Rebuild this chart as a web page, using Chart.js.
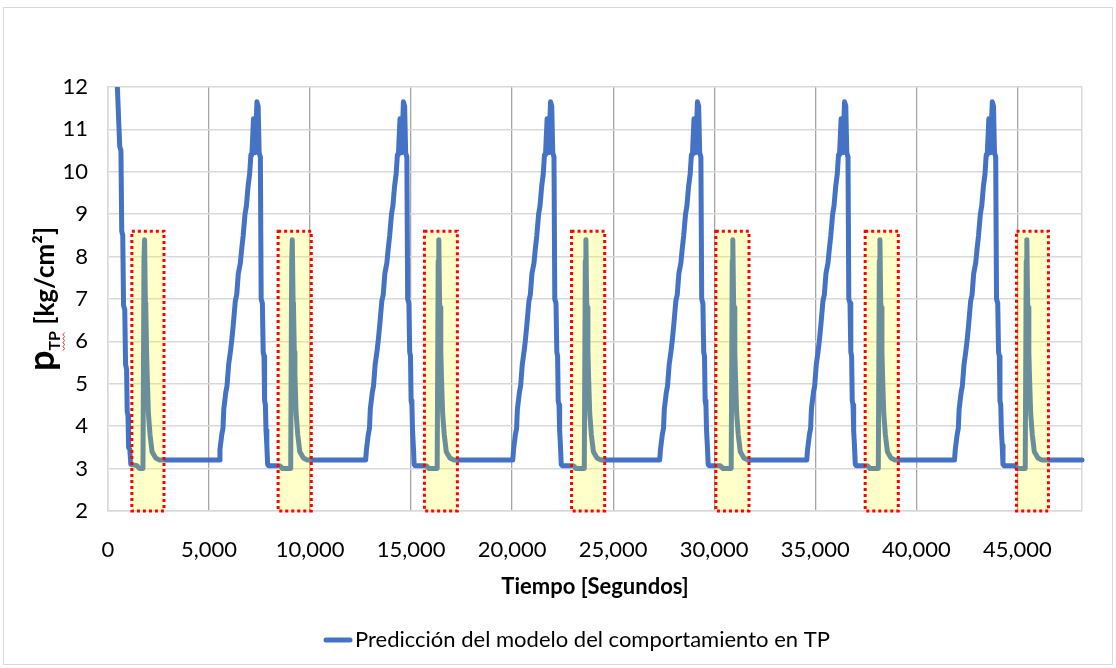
<!DOCTYPE html>
<html>
<head>
<meta charset="utf-8">
<title>Presión en TP</title>
<script src="https://cdn.jsdelivr.net/npm/chart.js@4.4.1/dist/chart.umd.min.js"></script>
<style>
  html, body { margin: 0; padding: 0; background: #ffffff; }
  #lienzo { display: block; width: 1116px; height: 668px; }
</style>
</head>
<body>
<canvas id="lienzo" width="1116" height="668"></canvas>
<script>
// Presión simulada en TP [kg/cm²] frente al tiempo [s], por tramos: [tiempo, presión]
const arranque = [
  [430, 12.40], [580, 10.60], [640, 10.50], [680, 8.60], [730, 8.50], [770, 6.85],
  [830, 6.75], [870, 5.45], [920, 5.35], [950, 4.35], [990, 4.25], [1020, 3.50],
  [1080, 3.45], [1130, 3.10], [1430, 3.07], [1570, 3.00], [1730, 3.00],
  [1780, 7.90], [1810, 8.40], [1850, 6.90], [1870, 6.80], [1910, 5.75], [1940, 5.20],
  [2000, 4.30], [2080, 3.80], [2180, 3.40], [2360, 3.25], [2560, 3.20]
];
const ciclo1 = [
  [5500, 3.20], [5540, 3.45], [5630, 3.80], [5690, 3.95], [5730, 4.40], [5830, 4.80],
  [5890, 4.95], [5970, 5.45], [6070, 5.80], [6130, 6.05], [6200, 6.40], [6300, 6.95],
  [6370, 7.10], [6450, 7.60], [6550, 7.85], [6610, 8.15], [6690, 8.50], [6780, 9.00],
  [6850, 9.20], [6930, 9.65], [7010, 9.95], [7070, 10.40], [7120, 10.40], [7200, 11.25],
  [7280, 10.45], [7370, 11.65], [7430, 11.55], [7480, 10.45], [7540, 10.35], [7580, 7.00],
  [7640, 6.90], [7680, 5.75], [7720, 5.65], [7750, 4.60], [7790, 4.50], [7820, 3.90],
  [7860, 3.55], [7900, 3.10], [7950, 3.07], [8490, 3.07], [8640, 3.00],
  [9040, 3.00], [9090, 7.90], [9120, 8.40], [9160, 6.90], [9180, 6.80], [9220, 5.75],
  [9250, 5.20], [9310, 4.30], [9390, 3.80], [9490, 3.40], [9670, 3.25], [9870, 3.20]
];
const ciclo2 = [
  [12750, 3.20], [12790, 3.45], [12880, 3.80], [12940, 3.95], [12980, 4.40], [13080, 4.80],
  [13140, 4.95], [13220, 5.45], [13320, 5.80], [13380, 6.05], [13450, 6.40], [13550, 6.95],
  [13620, 7.10], [13700, 7.60], [13800, 7.85], [13860, 8.15], [13940, 8.50], [14030, 9.00],
  [14100, 9.20], [14180, 9.65], [14260, 9.95], [14320, 10.40], [14370, 10.40], [14450, 11.25],
  [14530, 10.45], [14620, 11.65], [14680, 11.55], [14730, 10.45], [14790, 10.35], [14830, 7.00],
  [14890, 6.90], [14930, 5.75], [14970, 5.65], [15000, 4.60], [15040, 4.50], [15070, 3.90],
  [15110, 3.55], [15150, 3.10], [15200, 3.07], [15740, 3.07], [15890, 3.00],
  [16290, 3.00], [16340, 7.90], [16370, 8.40], [16410, 6.90], [16430, 6.80], [16470, 5.75],
  [16500, 5.20], [16560, 4.30], [16640, 3.80], [16740, 3.40], [16920, 3.25], [17120, 3.20]
];
const ciclo3 = [
  [20030, 3.20], [20070, 3.45], [20160, 3.80], [20220, 3.95], [20260, 4.40], [20360, 4.80],
  [20420, 4.95], [20500, 5.45], [20600, 5.80], [20660, 6.05], [20730, 6.40], [20830, 6.95],
  [20900, 7.10], [20980, 7.60], [21080, 7.85], [21140, 8.15], [21220, 8.50], [21310, 9.00],
  [21380, 9.20], [21460, 9.65], [21540, 9.95], [21600, 10.40], [21650, 10.40], [21730, 11.25],
  [21810, 10.45], [21900, 11.65], [21960, 11.55], [22010, 10.45], [22070, 10.35], [22110, 7.00],
  [22170, 6.90], [22210, 5.75], [22250, 5.65], [22280, 4.60], [22320, 4.50], [22350, 3.90],
  [22390, 3.55], [22430, 3.10], [22480, 3.07], [23020, 3.07], [23170, 3.00],
  [23570, 3.00], [23620, 7.90], [23650, 8.40], [23690, 6.90], [23710, 6.80], [23750, 5.75],
  [23780, 5.20], [23840, 4.30], [23920, 3.80], [24020, 3.40], [24200, 3.25], [24400, 3.20]
];
const ciclo4 = [
  [27300, 3.20], [27340, 3.45], [27430, 3.80], [27490, 3.95], [27530, 4.40], [27630, 4.80],
  [27690, 4.95], [27770, 5.45], [27870, 5.80], [27930, 6.05], [28000, 6.40], [28100, 6.95],
  [28170, 7.10], [28250, 7.60], [28350, 7.85], [28410, 8.15], [28490, 8.50], [28580, 9.00],
  [28650, 9.20], [28730, 9.65], [28810, 9.95], [28870, 10.40], [28920, 10.40], [29000, 11.25],
  [29080, 10.45], [29170, 11.65], [29230, 11.55], [29280, 10.45], [29340, 10.35], [29380, 7.00],
  [29440, 6.90], [29480, 5.75], [29520, 5.65], [29550, 4.60], [29590, 4.50], [29620, 3.90],
  [29660, 3.55], [29700, 3.10], [29750, 3.07], [30290, 3.07], [30440, 3.00],
  [30840, 3.00], [30890, 7.90], [30920, 8.40], [30960, 6.90], [30980, 6.80], [31020, 5.75],
  [31050, 5.20], [31110, 4.30], [31190, 3.80], [31290, 3.40], [31470, 3.25], [31670, 3.20]
];
const ciclo5 = [
  [34580, 3.20], [34620, 3.45], [34710, 3.80], [34770, 3.95], [34810, 4.40], [34910, 4.80],
  [34970, 4.95], [35050, 5.45], [35150, 5.80], [35210, 6.05], [35280, 6.40], [35380, 6.95],
  [35450, 7.10], [35530, 7.60], [35630, 7.85], [35690, 8.15], [35770, 8.50], [35860, 9.00],
  [35930, 9.20], [36010, 9.65], [36090, 9.95], [36150, 10.40], [36200, 10.40], [36280, 11.25],
  [36360, 10.45], [36450, 11.65], [36510, 11.55], [36560, 10.45], [36620, 10.35], [36660, 7.00],
  [36720, 6.90], [36760, 5.75], [36800, 5.65], [36830, 4.60], [36870, 4.50], [36900, 3.90],
  [36940, 3.55], [36980, 3.10], [37030, 3.07], [37570, 3.07], [37720, 3.00],
  [38120, 3.00], [38170, 7.90], [38200, 8.40], [38240, 6.90], [38260, 6.80], [38300, 5.75],
  [38330, 5.20], [38390, 4.30], [38470, 3.80], [38570, 3.40], [38750, 3.25], [38950, 3.20]
];
const ciclo6 = [
  [41890, 3.20], [41930, 3.45], [42020, 3.80], [42080, 3.95], [42120, 4.40], [42220, 4.80],
  [42280, 4.95], [42360, 5.45], [42460, 5.80], [42520, 6.05], [42590, 6.40], [42690, 6.95],
  [42760, 7.10], [42840, 7.60], [42940, 7.85], [43000, 8.15], [43080, 8.50], [43170, 9.00],
  [43240, 9.20], [43320, 9.65], [43400, 9.95], [43460, 10.40], [43510, 10.40], [43590, 11.25],
  [43670, 10.45], [43760, 11.65], [43820, 11.55], [43870, 10.45], [43930, 10.35], [43970, 7.00],
  [44030, 6.90], [44070, 5.75], [44110, 5.65], [44140, 4.60], [44180, 4.50], [44210, 3.90],
  [44250, 3.55], [44290, 3.10], [44340, 3.07], [44880, 3.07], [45030, 3.00],
  [45390, 3.00], [45440, 7.90], [45470, 8.40], [45510, 6.90], [45530, 6.80], [45570, 5.75],
  [45600, 5.20], [45660, 4.30], [45740, 3.80], [45840, 3.40], [46020, 3.25], [46220, 3.20],
  [48200, 3.20]
];

// Ventanas resaltadas (tiempo inicial y final, presión mínima y máxima)
const ventanaInicio = [1180, 8420, 15660, 22940, 30080, 37470, 44960];
const ventanaFin    = [2770, 10060, 17290, 24580, 31720, 39110, 46540];
const ventanaPresion = [2, 8.6];

// Ejes: marcas del eje X y límites
const marcasX = [0, 5000, 10000, 15000, 20000, 25000, 30000, 35000, 40000, 45000];
const ejeX = { min: 0, max: 48200 };
const ejeY = { min: 2, max: 12, paso: 1 };

const etiquetaSerie = 'Predicción del modelo del comportamiento en TP';
const tituloX = 'Tiempo [Segundos]';
const tituloYPartes = ['p', 'TP', ' [kg/cm²]'];

const FUENTE = "Lato, 'Liberation Sans', sans-serif";
const AZUL = '#4472C4';

const puntos = [arranque, ciclo1, ciclo2, ciclo3, ciclo4, ciclo5, ciclo6]
  .flat()
  .map(([t, p]) => ({ x: t, y: p }));

const esMarcaInterior = (v) => marcasX.includes(v) && v !== ejeX.min;

// Fondo blanco y marco exterior
const fondo = {
  id: 'fondo',
  beforeDraw(chart) {
    const ctx = chart.ctx;
    ctx.save();
    ctx.fillStyle = '#ffffff';
    ctx.fillRect(0, 0, chart.width, chart.height);
    ctx.restore();
  },
  afterDraw(chart) {
    const ctx = chart.ctx;
    ctx.save();
    ctx.strokeStyle = '#d9d9d9';
    ctx.lineWidth = 1;
    ctx.strokeRect(3.5, 7.5, chart.width - 7, chart.height - 11);
    ctx.restore();
  }
};

// Rectángulos amarillos translúcidos con borde rojo punteado
const ventanas = {
  id: 'ventanas',
  afterDatasetsDraw(chart) {
    const { ctx, scales: { x, y } } = chart;
    const y0 = y.getPixelForValue(ventanaPresion[1]);
    const y1 = y.getPixelForValue(ventanaPresion[0]);
    ctx.save();
    ventanaInicio.forEach((t0, i) => {
      const x0 = x.getPixelForValue(t0);
      const x1 = x.getPixelForValue(ventanaFin[i]);
      ctx.fillStyle = 'rgba(255, 255, 0, 0.21)';
      ctx.fillRect(x0, y0, x1 - x0, y1 - y0);
      ctx.strokeStyle = '#ff0000';
      ctx.lineWidth = 3;
      ctx.setLineDash([3, 3]);
      ctx.lineCap = 'butt';
      ctx.strokeRect(x0, y0, x1 - x0, y1 - y0);
    });
    ctx.restore();
  }
};

// Título vertical con subíndice
const tituloVertical = {
  id: 'tituloVertical',
  afterDraw(chart) {
    const ctx = chart.ctx;
    const area = chart.chartArea;
    const cy = (area.top + area.bottom) / 2;
    const fuentes = [`bold 36px ${FUENTE}`, `bold 16px ${FUENTE}`, `bold 26px ${FUENTE}`];
    const desplaz = [0, 6, 0];
    ctx.save();
    ctx.translate(54, cy);
    ctx.rotate(-Math.PI / 2);
    const anchos = tituloYPartes.map((s, i) => { ctx.font = fuentes[i]; return ctx.measureText(s).width; });
    let px = -anchos.reduce((a, b) => a + b, 0) / 2;
    ctx.fillStyle = '#000000';
    ctx.textBaseline = 'alphabetic';
    tituloYPartes.forEach((s, i) => {
      ctx.font = fuentes[i];
      ctx.fillText(s, px, desplaz[i]);
      if (i === 1) {
        // subrayado ondulado rojo bajo el subíndice
        ctx.strokeStyle = '#e03030';
        ctx.lineWidth = 1;
        ctx.beginPath();
        for (let k = 0; k <= anchos[i]; k += 2) {
          const yy = desplaz[i] + 3 + ((k / 2) % 2 === 0 ? 0 : 1.5);
          if (k === 0) ctx.moveTo(px + k, yy); else ctx.lineTo(px + k, yy);
        }
        ctx.stroke();
      }
      px += anchos[i];
    });
    ctx.restore();
  }
};

// Leyenda inferior
const leyenda = {
  id: 'leyenda',
  afterDraw(chart) {
    const ctx = chart.ctx;
    const ds = chart.data.datasets[0];
    const yc = 640;
    ctx.save();
    ctx.strokeStyle = ds.borderColor;
    ctx.lineWidth = 5;
    ctx.lineCap = 'round';
    ctx.beginPath();
    ctx.moveTo(326, yc);
    ctx.lineTo(350, yc);
    ctx.stroke();
    ctx.font = `22px ${FUENTE}`;
    ctx.fillStyle = '#000000';
    ctx.textBaseline = 'middle';
    ctx.fillText(ds.label, 355, yc);
    ctx.restore();
  }
};

new Chart(document.getElementById('lienzo'), {
  type: 'line',
  data: {
    datasets: [{
      label: etiquetaSerie,
      data: puntos,
      borderColor: AZUL,
      backgroundColor: AZUL,
      borderWidth: 5,
      borderJoinStyle: 'round',
      borderCapStyle: 'round',
      pointRadius: 0,
      tension: 0,
      fill: false,
      clip: { left: 5, top: 0, right: 5, bottom: 5 }
    }]
  },
  options: {
    responsive: false,
    animation: false,
    events: [],
    layout: { padding: { top: 87, left: 0, right: 34, bottom: 0 } },
    plugins: {
      legend: { display: false },
      tooltip: { enabled: false }
    },
    scales: {
      x: {
        type: 'linear',
        min: ejeX.min,
        max: ejeX.max,
        afterBuildTicks(scale) {
          scale.ticks = marcasX.concat([ejeX.max]).map((v) => ({ value: v }));
        },
        afterFit(scale) { scale.height = 157; },
        ticks: {
          maxRotation: 0,
          autoSkip: false,
          padding: 26,
          color: '#000000',
          font: { family: FUENTE, size: 22 },
          callback: (v) => (marcasX.includes(v) ? v.toLocaleString('en-US') : '')
        },
        grid: {
          drawTicks: false,
          color: (c) => (c.tick && esMarcaInterior(c.tick.value) ? '#a6a6a6' : '#d9d9d9'),
          lineWidth: (c) => (c.tick && esMarcaInterior(c.tick.value) ? 1.3 : 1.5)
        },
        border: { color: '#d9d9d9', width: 1.5 },
        title: {
          display: true,
          text: tituloX,
          color: '#000000',
          font: { family: FUENTE, size: 22, weight: 'bold' },
          padding: { top: 0, bottom: 68 }
        }
      },
      y: {
        min: ejeY.min,
        max: ejeY.max,
        afterFit(scale) { scale.width = 108; },
        ticks: {
          stepSize: ejeY.paso,
          padding: 20,
          color: '#000000',
          font: { family: FUENTE, size: 22 }
        },
        grid: { drawTicks: false, color: '#d9d9d9', lineWidth: 1.5 },
        border: { color: '#d9d9d9', width: 1.5 }
      }
    }
  },
  plugins: [fondo, ventanas, tituloVertical, leyenda]
});
</script>
</body>
</html>
